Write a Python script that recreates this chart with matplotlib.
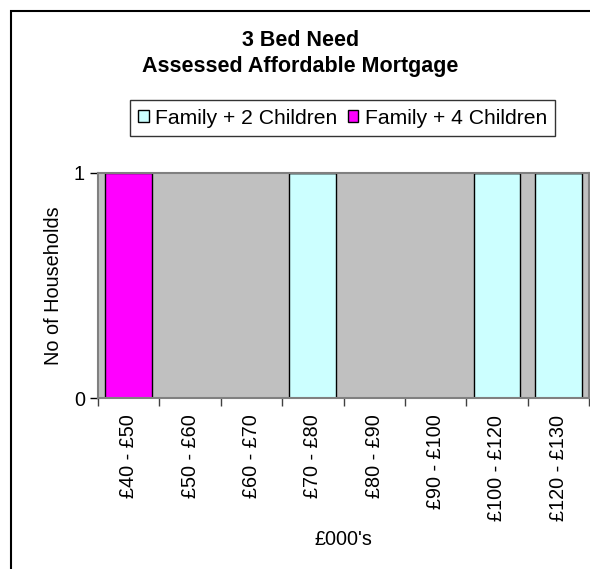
import numpy as np
import matplotlib.pyplot as plt
from matplotlib.patches import Rectangle

plt.rcParams['font.family'] = ['Liberation Sans', 'DejaVu Sans']

# Data
categories = ['£40 - £50', '£50 - £60', '£60 - £70', '£70 - £80',
              '£80 - £90', '£90 - £100', '£100 - £120', '£120 - £130']
family_2_children = [0, 0, 0, 1, 0, 0, 1, 1]
family_4_children = [1, 0, 0, 0, 0, 0, 0, 0]

W, H = 590, 569
fig = plt.figure(figsize=(W / 100, H / 100), dpi=100)
ax = fig.add_axes([98 / W, (H - 398) / H, (589 - 98) / W, (398 - 173) / H])
ax.set_facecolor('#C0C0C0')

x = np.arange(len(categories))
b1 = ax.bar(x, family_2_children, width=0.76, color='#CCFFFF',
            edgecolor='black', linewidth=1, label='Family + 2 Children')
b2 = ax.bar(x, family_4_children, width=0.76, bottom=family_2_children,
            color='#FF00FF', edgecolor='black', linewidth=1,
            label='Family + 4 Children')

ax.set_xlim(-0.5, len(categories) - 0.5)
ax.set_ylim(0, 1)
ax.set_yticks([0, 1])
ax.tick_params(axis='y', labelsize=14.3, length=6, width=1, color='black')

ax.set_xticks(x)
ax.set_xticklabels(categories, rotation=90, fontsize=14.3)
ax.set_xticks(np.arange(len(categories) + 1) - 0.5, minor=True)
ax.tick_params(axis='x', which='major', length=0, pad=12)
ax.tick_params(axis='x', which='minor', length=6, width=1, color='#404040')

for side in ['top', 'right', 'left', 'bottom']:
    ax.spines[side].set_color('#808080')
    ax.spines[side].set_linewidth(1.5)

ax.set_ylabel('No of Households', fontsize=14.3, labelpad=8)
ax.set_xlabel("£000's", fontsize=14.3, labelpad=7)

cx = 0.5 * (11 + 590) / W
fig.text(cx, 1 - 40 / H, '3 Bed Need', ha='center', va='center',
         fontsize=15.5, fontweight='bold')
fig.text(cx, 1 - 66 / H, 'Assessed Affordable Mortgage',
         ha='center', va='center', fontsize=15.5, fontweight='bold')

leg = fig.legend(handles=[b1, b2], loc='center', ncol=2,
                 bbox_to_anchor=((123 + 562) / 2 / W, 1 - 118 / H),
                 bbox_transform=fig.transFigure, fontsize=15.2,
                 frameon=True, fancybox=False, handlelength=0.5,
                 handleheight=0.5, handletextpad=0.3, columnspacing=0.5,
                 borderpad=0.4, borderaxespad=0)
leg.get_frame().set_edgecolor('black')
leg.get_frame().set_linewidth(1)

# outer chart border
fig.patches.append(Rectangle((11 / W, -0.1), 1.2, 1 - 11 / H + 0.1,
                             transform=fig.transFigure, fill=False,
                             edgecolor='black', linewidth=1.5))

fig.savefig('out.png', dpi=100)
